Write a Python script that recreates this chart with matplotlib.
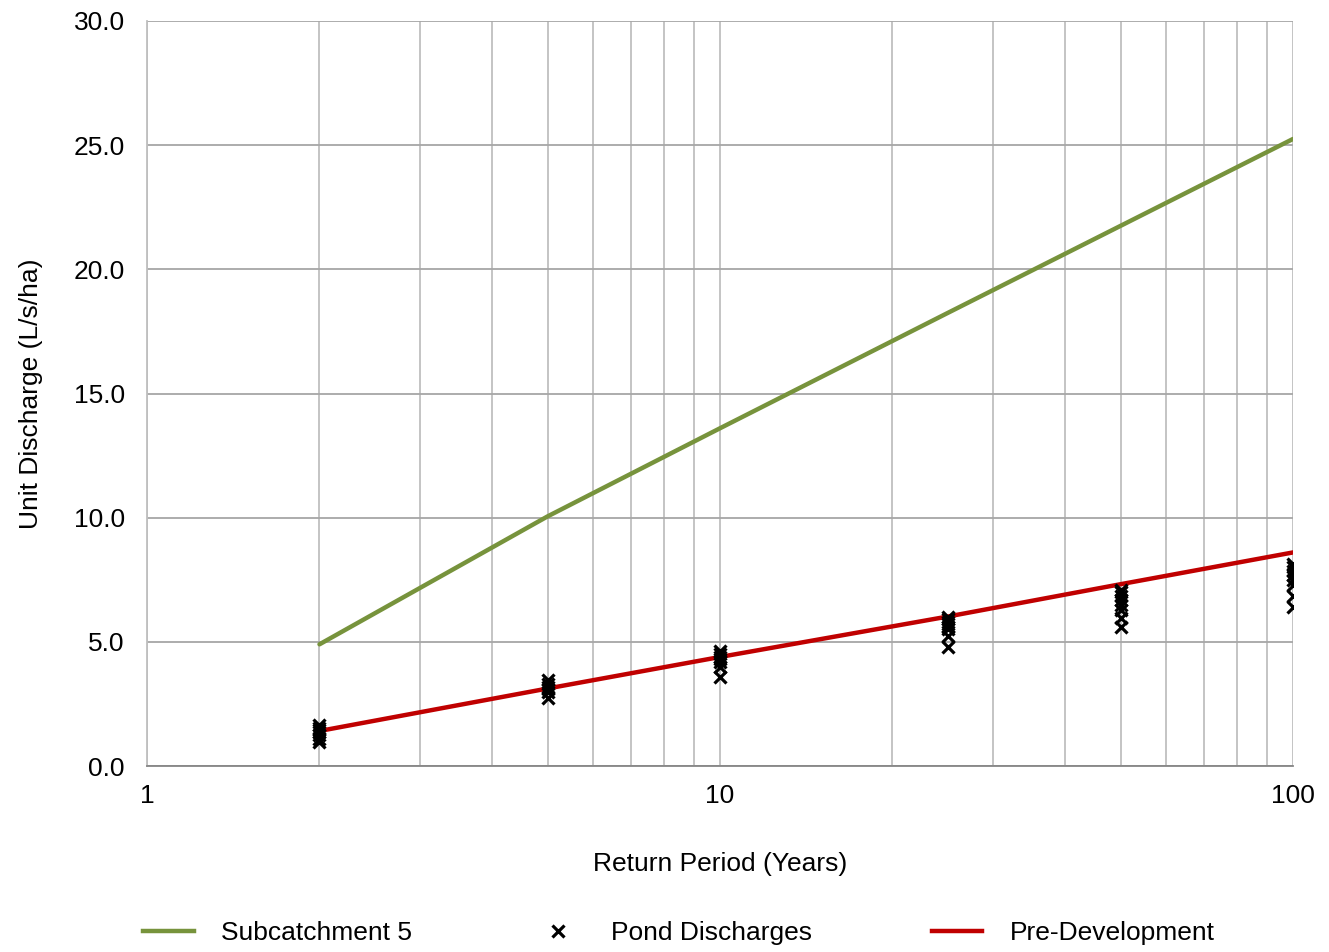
import matplotlib
matplotlib.use("Agg")
import matplotlib.pyplot as plt
from matplotlib.ticker import FixedLocator, NullFormatter, FixedFormatter
from matplotlib.lines import Line2D

plt.rcParams['font.family'] = ['Liberation Sans', 'DejaVu Sans']

# Data
return_periods = [2, 5, 10, 25, 50, 100]
subcatchment5 = [4.9, 10.05, 13.6, 18.25, 21.75, 25.25]
pre_development = [1.41, 3.12, 4.39, 6.02, 7.32, 8.6]
pond_rp = [2]*7 + [5]*6 + [10]*7 + [25]*8 + [50]*8 + [100]*8
pond_q = [0.95, 1.1, 1.25, 1.35, 1.45, 1.55, 1.65,
          2.75, 3.0, 3.1, 3.2, 3.3, 3.45,
          3.6, 4.0, 4.2, 4.3, 4.4, 4.5, 4.65,
          4.8, 5.25, 5.5, 5.6, 5.7, 5.8, 5.9, 6.0,
          5.6, 5.95, 6.3, 6.5, 6.7, 6.85, 7.0, 7.1,
          6.4, 6.85, 7.3, 7.5, 7.7, 7.85, 8.0, 8.15]
y_ticks = [0, 5, 10, 15, 20, 25, 30]

FS = 19

fig = plt.figure(figsize=(13.29, 9.52), dpi=100)
ax = fig.add_axes([147/1329, 1-766/952, (1293-147)/1329, (766-21)/952])

ax.set_xscale('log')
ax.set_xlim(1, 100)
ax.set_ylim(0, 30)

green = '#77933c'
red = '#c00000'
ax.plot(return_periods, subcatchment5, color=green, lw=3.2, solid_capstyle='round', zorder=3)
ax.plot(return_periods, pre_development, color=red, lw=3.2, solid_capstyle='round', zorder=3)
ax.plot(pond_rp, pond_q, linestyle='none', marker='x', color='black', ms=9, mew=2.3, zorder=4)

ax.set_yticks(y_ticks)
ax.set_yticklabels([f"{v:.1f}" for v in y_ticks])
ax.xaxis.set_major_locator(FixedLocator([1, 10, 100]))
ax.xaxis.set_major_formatter(FixedFormatter(['1', '10', '100']))
ax.xaxis.set_minor_locator(FixedLocator([2, 3, 4, 5, 6, 7, 8, 9, 20, 30, 40, 50, 60, 70, 80, 90]))
ax.xaxis.set_minor_formatter(NullFormatter())

ax.grid(True, axis='x', which='both', color='#bfbfbf', lw=1.3, zorder=1)
ax.grid(True, axis='y', which='major', color='#a6a6a6', lw=1.3, zorder=1)
ax.set_axisbelow(True)
ax.tick_params(axis='y', which='both', length=0, labelsize=FS, pad=16)
ax.tick_params(axis='x', which='both', length=0, labelsize=FS, pad=13)
for s in ['top', 'right']:
    ax.spines[s].set_visible(False)
ax.spines['left'].set_color('#bfbfbf')
ax.spines['left'].set_linewidth(1.3)
ax.spines['bottom'].set_color('#868686')
ax.spines['bottom'].set_linewidth(1.3)

ax.set_xlabel('Return Period (Years)', fontsize=FS, labelpad=32)
ax.set_ylabel('Unit Discharge (L/s/ha)', fontsize=FS, labelpad=22)

handles = [Line2D([0], [0], color=green, lw=3.2),
           Line2D([0], [0], linestyle='none', marker='x', color='black', ms=9, mew=2.3),
           Line2D([0], [0], color=red, lw=3.2)]
labels = ['Subcatchment 5', 'Pond Discharges', 'Pre-Development']
fig.legend(handles, labels, loc='center', bbox_to_anchor=(0.511, 1-933/952), ncol=3,
           frameon=False, fontsize=FS, handlelength=1.9, handletextpad=1.06, columnspacing=4.55)

fig.savefig('out.png', dpi=100)
